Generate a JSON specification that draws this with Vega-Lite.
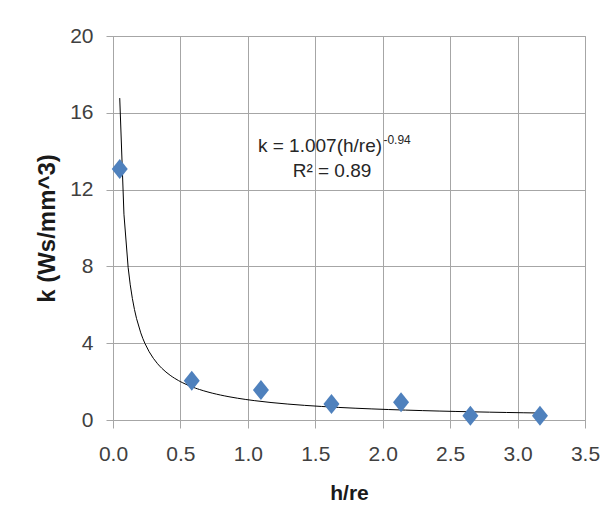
{
  "$schema": "https://vega.github.io/schema/vega-lite/v6.json",
  "width": 472,
  "height": 384,
  "autosize": {"type": "none"},
  "padding": {"left": 113, "top": 36, "right": 30, "bottom": 107},
  "background": "white",
  "config": {
    "view": {"stroke": "#a6a6a6", "strokeWidth": 1},
    "axis": {
      "grid": true,
      "gridColor": "#a6a6a6",
      "gridOpacity": 1,
      "domainColor": "#a6a6a6",
      "tickColor": "#a6a6a6",
      "labelFont": "Liberation Sans",
      "labelFontSize": 21,
      "labelColor": "#404040",
      "titleFont": "Liberation Sans",
      "titleColor": "#1a1a1a",
      "titleFontWeight": "bold"
    }
  },
  "datasets": {
    "points": [
      {"h_re": 0.05, "k": 13.07},
      {"h_re": 0.584, "k": 2.05},
      {"h_re": 1.097, "k": 1.56},
      {"h_re": 1.62, "k": 0.83},
      {"h_re": 2.136, "k": 0.92},
      {"h_re": 2.65, "k": 0.22},
      {"h_re": 3.166, "k": 0.22}
    ],
    "eq": [{"h_re": 1.535, "k": 13.96, "label": "k = 1.007(h/re)"}],
    "sup": [{"h_re": 2.005, "k": 14.35, "label": "-0.94"}],
    "r2": [{"h_re": 1.624, "k": 12.66, "label": "R² = 0.89"}]
  },
  "encoding": {
    "x": {
      "field": "h_re",
      "type": "quantitative",
      "scale": {"domain": [0, 3.5], "nice": false, "zero": false},
      "axis": {
        "values": [0, 0.5, 1, 1.5, 2, 2.5, 3, 3.5],
        "format": ".1f",
        "tickSize": 8,
        "labelPadding": 15,
        "labelFlush": false,
        "title": "h/re",
        "titleFontSize": 21,
        "titlePadding": 18
      }
    },
    "y": {
      "field": "k",
      "type": "quantitative",
      "scale": {"domain": [0, 20], "nice": false},
      "axis": {
        "values": [0, 4, 8, 12, 16, 20],
        "tickSize": 7,
        "labelPadding": 13,
        "labelFlush": false,
        "title": "k (Ws/mm^3)",
        "titleFontSize": 24,
        "titlePadding": 10
      }
    }
  },
  "layer": [
    {
      "data": {"name": "points"},
      "transform": [{"regression": "k", "on": "h_re", "method": "pow"}],
      "mark": {"type": "line", "color": "black", "strokeWidth": 1}
    },
    {
      "data": {"name": "points"},
      "mark": {
        "type": "point",
        "shape": "M-0.8,0L0,-1L0.8,0L0,1Z",
        "filled": true,
        "size": 400,
        "color": "#4F81BD",
        "opacity": 1
      }
    },
    {
      "data": {"name": "eq"},
      "mark": {"type": "text", "font": "Liberation Sans", "fontSize": 19, "color": "#262626", "align": "center", "baseline": "alphabetic"},
      "encoding": {"text": {"field": "label"}}
    },
    {
      "data": {"name": "sup"},
      "mark": {"type": "text", "font": "Liberation Sans", "fontSize": 12, "color": "#262626", "align": "left", "baseline": "alphabetic"},
      "encoding": {"text": {"field": "label"}}
    },
    {
      "data": {"name": "r2"},
      "mark": {"type": "text", "font": "Liberation Sans", "fontSize": 19, "color": "#262626", "align": "center", "baseline": "alphabetic"},
      "encoding": {"text": {"field": "label"}}
    }
  ]
}
